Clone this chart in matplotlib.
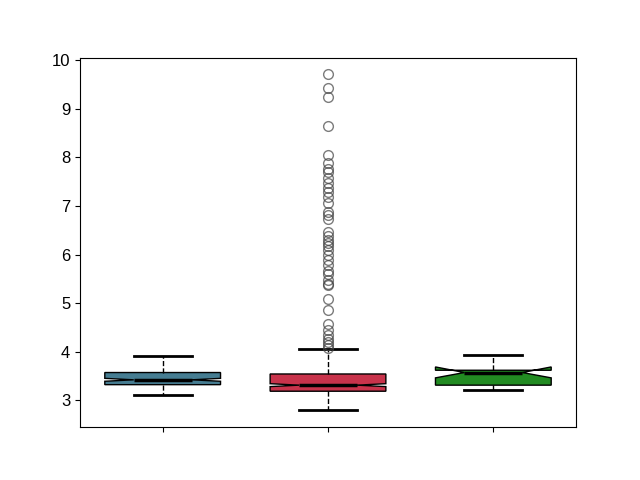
import matplotlib
matplotlib.use("Agg")
import matplotlib.pyplot as plt

plt.rcParams['font.family'] = ['Liberation Sans', 'DejaVu Sans']

# Box statistics
medians = [3.42, 3.31, 3.57]
q1s = [3.32, 3.185, 3.31]
q3s = [3.57, 3.54, 3.617]
whislos = [3.10, 2.79, 3.20]
whishis = [3.905, 4.05, 3.94]
cilos = [3.39, 3.28, 3.46]
cihis = [3.45, 3.34, 3.685]
fliers_1 = []
fliers_2 = [9.71, 9.44, 9.24, 8.65, 8.05, 7.88, 7.76, 7.69, 7.58, 7.48, 7.38, 7.28,
            7.18, 7.06, 6.88, 6.82, 6.74, 6.46, 6.38, 6.30, 6.24, 6.18, 6.10, 6.00,
            5.88, 5.78, 5.67, 5.59, 5.47, 5.40, 5.38, 5.08, 4.85, 4.57, 4.45, 4.35,
            4.27, 4.20, 4.13, 4.08]
fliers_3 = []
fliers = [fliers_1, fliers_2, fliers_3]
colors = ['#467d92', '#c8334b', '#228b22']

stats = []
for i in range(3):
    stats.append(dict(med=medians[i], q1=q1s[i], q3=q3s[i], whislo=whislos[i],
                      whishi=whishis[i], cilo=cilos[i], cihi=cihis[i],
                      fliers=fliers[i]))

fig, ax = plt.subplots(figsize=(6.4, 4.8), dpi=100)
bp = ax.bxp(stats, positions=[1, 2, 3], widths=0.7, shownotches=True,
            patch_artist=True,
            boxprops=dict(edgecolor='black', linewidth=1.0),
            medianprops=dict(color='black', linewidth=2.5),
            whiskerprops=dict(color='black', linestyle='--', linewidth=1.0),
            capprops=dict(color='black', linewidth=2.0),
            flierprops=dict(marker='o', markerfacecolor='none',
                            markeredgecolor='#444444', alpha=0.7,
                            markersize=7))
for patch, c in zip(bp['boxes'], colors):
    patch.set_facecolor(c)

ax.set_xticks([1, 2, 3])
ax.set_xticklabels(['', '', ''])
ax.set_yticks(range(3, 11))
ax.tick_params(axis='y', labelsize=12)

fig.savefig('out.png', dpi=100)
